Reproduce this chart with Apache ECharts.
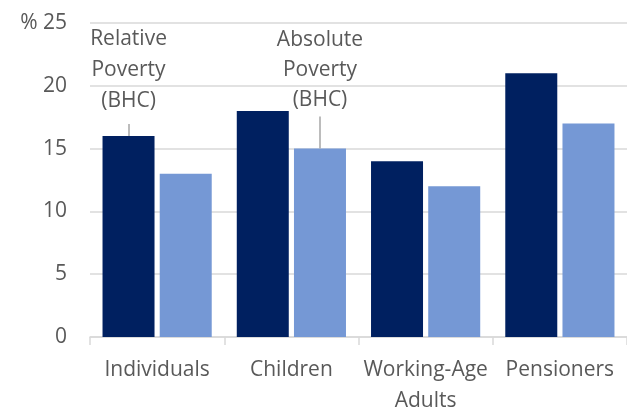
<!DOCTYPE html>
<html><head><meta charset="utf-8">
<script src="https://cdn.jsdelivr.net/npm/echarts@6/dist/echarts.min.js"></script>
<style>html,body{margin:0;padding:0;background:#fff;overflow:hidden}#c{width:627px;height:416px}</style>
</head><body><div id="c"></div>
<script>
const categories = ['Individuals', 'Children', 'Working-Age\nAdults', 'Pensioners'];
const relativePoverty = [16, 18, 14, 21];
const absolutePoverty = [13, 15, 12, 17];
const yTicks = [0, 5, 10, 15, 20, 25];
const seriesNames = ['Relative\nPoverty\n(BHC)', 'Absolute\nPoverty\n(BHC)'];
// value-axis heights where the two annotation leader lines end
const leaderTops = [16.95, 17.55];

const FONT = 'Open Sans';
const FS = 21;
const TXT = '#595959';
const chart = echarts.init(document.getElementById('c'), null, {renderer: 'canvas'});
chart.setOption({
  animation: false,
  grid: {left: 90, right: -6, top: 23, bottom: 72, containLabel: false},
  xAxis: {
    type: 'category', data: categories,
    axisLine: {lineStyle: {color: '#d9d9d9', width: 1.5}},
    axisTick: {show: true, length: 8, lineStyle: {color: '#d9d9d9', width: 1.5}},
    axisLabel: {color: TXT, fontFamily: FONT, fontSize: FS, lineHeight: 30.5, margin: 18, interval: 0}
  },
  yAxis: {
    type: 'value', min: 0, max: 25, interval: 5,
    axisLine: {show: false}, axisTick: {show: false},
    splitLine: {lineStyle: {color: '#d9d9d9', width: 1.5}},
    axisLabel: {color: TXT, fontFamily: FONT, fontSize: FS, margin: 23,
      formatter: v => v === yTicks[yTicks.length - 1] ? '% ' + v : String(v)}
  },
  series: [
    {
      name: seriesNames[0], type: 'bar', data: relativePoverty,
      barWidth: 52, barGap: '10%',
      itemStyle: {color: '#002060'},
      markLine: {
        silent: true, symbol: 'none',
        lineStyle: {color: '#a6a6a6', width: 1.5, type: 'solid'},
        label: {show: true, position: 'end', distance: 7.5, formatter: seriesNames[0],
          color: TXT, fontFamily: FONT, fontSize: FS, lineHeight: 31},
        data: [[{coord: [categories[0], relativePoverty[0]]}, {coord: [categories[0], leaderTops[0]]}]]
      }
    },
    {
      name: seriesNames[1], type: 'bar', data: absolutePoverty,
      barWidth: 52, barGap: '10%',
      itemStyle: {color: '#7598d5'},
      markLine: {
        silent: true, symbol: 'none',
        lineStyle: {color: '#a6a6a6', width: 1.5, type: 'solid'},
        label: {show: true, position: 'end', distance: 2, formatter: seriesNames[1],
          color: TXT, fontFamily: FONT, fontSize: FS, lineHeight: 30},
        data: [[{coord: [categories[1], absolutePoverty[1]]}, {coord: [categories[1], leaderTops[1]]}]]
      }
    }
  ]
});
</script></body></html>
